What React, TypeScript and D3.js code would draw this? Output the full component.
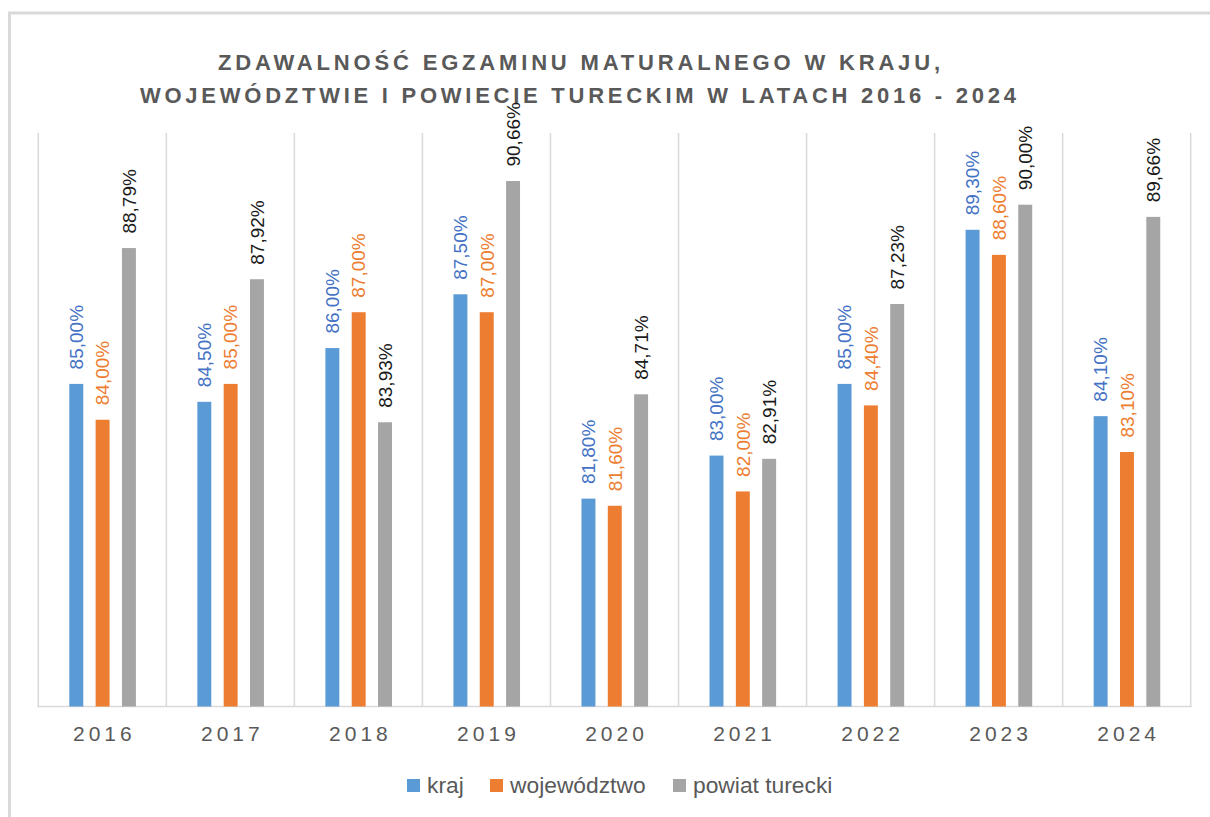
import React from "react";
import * as d3 from "d3";

const years = ["2016", "2017", "2018", "2019", "2020", "2021", "2022", "2023", "2024"];
const seriesNames = ["kraj", "województwo", "powiat turecki"];
const kraj = [85.0, 84.5, 86.0, 87.5, 81.8, 83.0, 85.0, 89.3, 84.1];
const wojewodztwo = [84.0, 85.0, 87.0, 87.0, 81.6, 82.0, 84.4, 88.6, 83.1];
const powiat = [88.79, 87.92, 83.93, 90.66, 84.71, 82.91, 87.23, 90.0, 89.66];
const titleLines = [
  "ZDAWALNOŚĆ EGZAMINU MATURALNEGO W KRAJU,",
  "WOJEWÓDZTWIE I POWIECIE TURECKIM W LATACH 2016 - 2024",
];

const barColors = ["#5B9BD5", "#ED7D31", "#A5A5A5"];
const labelColors = ["#4472C4", "#ED7D31", "#1a1a1a"];
const FONT = "'Liberation Sans', Arial, sans-serif";

export default function App() {
  const W = 1210, H = 817;
  const left = 38.3, right = 1190.7, top = 133, bottom = 706.5;
  const values = [kraj, wojewodztwo, powiat];

  const x = d3.scaleBand<string>().domain(years).range([left, right]).padding(0);
  const inner = d3
    .scaleBand<string>()
    .domain(seriesNames)
    .range([31, 97.6])
    .paddingInner(0.47)
    .paddingOuter(0);
  const y = d3.scaleLinear().domain([76, 92]).range([bottom, top]);

  const fmt = (v: number) => v.toFixed(2).replace(".", ",") + "%";

  const legendX = [407, 490, 673];

  return (
    <svg
      width={W}
      height={H}
      style={{ position: "absolute", left: 0, top: 0, display: "block", background: "#fff" }}
    >
      <rect x={9.5} y={13} width={1400} height={1000} fill="#fff" stroke="#D9D9D9" strokeWidth={3} />

      {/* title */}
      <text
        x={579}
        y={70}
        textAnchor="middle"
        fontFamily={FONT}
        fontWeight="bold"
        fontSize={22}
        fill="#595959"
        textLength={722}
        lengthAdjust="spacing"
      >
        {titleLines[0]}
      </text>
      <text
        x={578}
        y={103}
        textAnchor="middle"
        fontFamily={FONT}
        fontWeight="bold"
        fontSize={22}
        fill="#595959"
        textLength={876}
        lengthAdjust="spacing"
      >
        {titleLines[1]}
      </text>

      {/* gridlines */}
      {[...years.map((yr) => x(yr)!), right].map((gx, i) => (
        <line key={i} x1={gx} x2={gx} y1={top} y2={bottom} stroke="#D9D9D9" strokeWidth={1.5} />
      ))}
      <line x1={left - 1} x2={right + 1} y1={bottom} y2={bottom} stroke="#D9D9D9" strokeWidth={1.5} />

      {/* bars */}
      {years.map((yr, i) =>
        seriesNames.map((s, si) => {
          const v = values[si][i];
          const bx = x(yr)! + inner(s)!;
          return (
            <rect
              key={yr + s}
              x={bx}
              y={y(v)}
              width={inner.bandwidth()}
              height={bottom - y(v)}
              fill={barColors[si]}
            />
          );
        })
      )}

      {/* data labels */}
      {years.map((yr, i) =>
        seriesNames.map((s, si) => {
          const v = values[si][i];
          const cx = x(yr)! + inner(s)! + inner.bandwidth() / 2;
          const ty = y(v) - 14.5;
          return (
            <text
              key={"l" + yr + s}
              transform={`translate(${cx + 6.8},${ty}) rotate(-90)`}
              fontFamily={FONT}
              fontSize={19}
              fill={labelColors[si]}
              textAnchor="start"
            >
              {fmt(v)}
            </text>
          );
        })
      )}

      {/* x-axis labels */}
      {years.map((yr) => (
        <text
          key={"x" + yr}
          x={x(yr)! + x.bandwidth() / 2 + 2}
          y={741}
          textAnchor="middle"
          fontFamily={FONT}
          fontSize={21}
          letterSpacing={4}
          fill="#595959"
        >
          {yr}
        </text>
      ))}

      {/* legend */}
      {seriesNames.map((s, si) => (
        <g key={"lg" + s}>
          <rect x={legendX[si]} y={779} width={13} height={13} fill={barColors[si]} />
          <text x={legendX[si] + 20} y={793} fontFamily={FONT} fontSize={22.8} fill="#595959">
            {s}
          </text>
        </g>
      ))}
    </svg>
  );
}
